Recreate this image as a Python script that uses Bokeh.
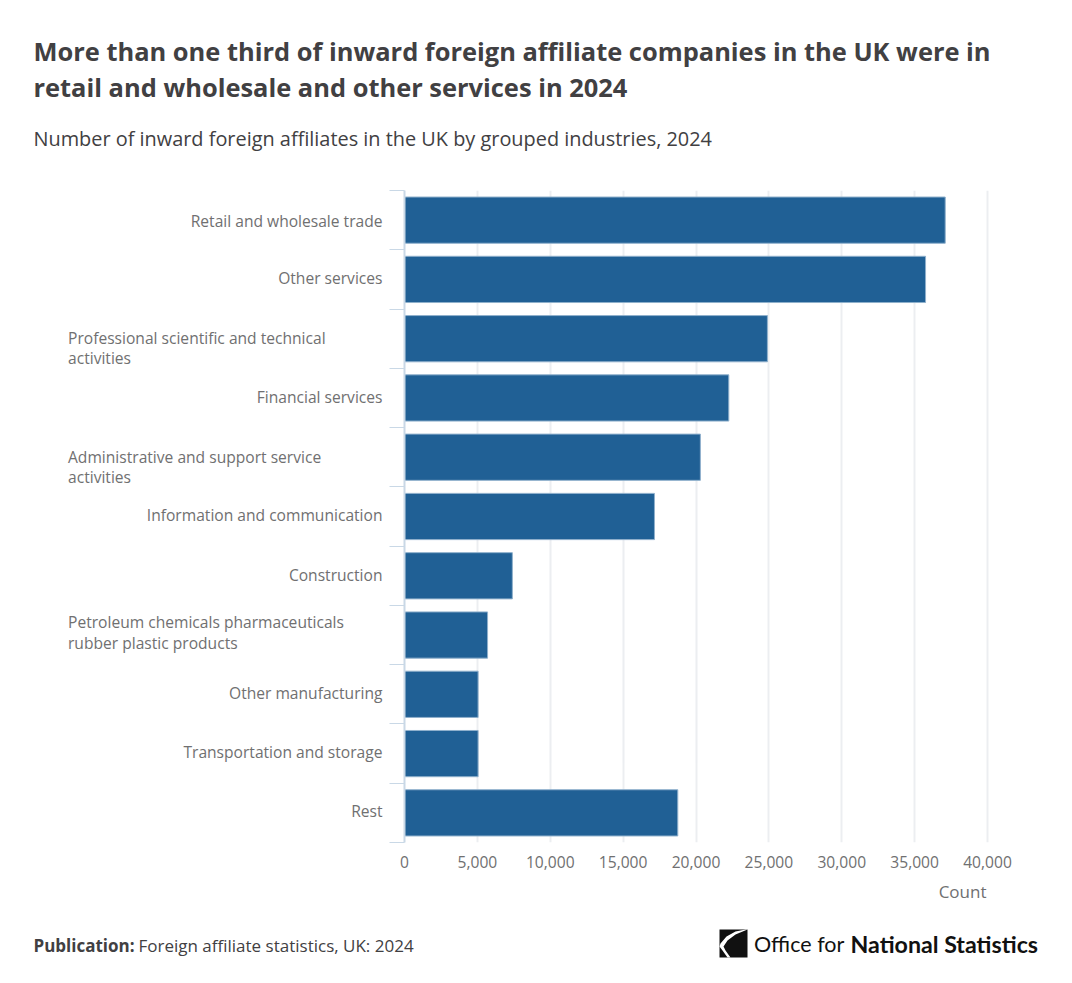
from bokeh.plotting import figure
from bokeh.layouts import column, row
from bokeh.core.properties import value
from bokeh.models import ColumnDataSource, FixedTicker, Range1d, NumeralTickFormatter
from bokeh.embed import file_html
from bokeh.resources import INLINE

categories = ["Retail and wholesale trade", "Other services",
              "Professional scientific and technical\nactivities", "Financial services",
              "Administrative and support service\nactivities", "Information and communication",
              "Construction", "Petroleum chemicals pharmaceuticals\nrubber plastic products",
              "Other manufacturing", "Transportation and storage", "Rest"]
values = [37100, 35750, 24900, 22250, 20300, 17150, 7400, 5700, 5050, 5050, 18750]
x_ticks = [0, 5000, 10000, 15000, 20000, 25000, 30000, 35000, 40000]
title_lines = ["More than one third of inward foreign affiliate companies in the UK were in",
               "retail and wholesale and other services in 2024"]
subtitle = "Number of inward foreign affiliates in the UK by grouped industries, 2024"
logo_x = [745, 735, 726, 720, 719, 722, 727, 730, 725, 723, 727, 735, 747]
logo_y = [929, 931, 936, 943, 946, 950, 957, 957, 950, 946, 940, 934, 929]

W = 1056
HEAD_H, CHART_H, FOOT_H = 180, 700, 87
LEFT_W = 389
CHART_TOP, CHART_BOTTOM = 10, 38
FONT = "Open Sans"
TXT = "#414042"
GREY = "#707071"
LBL = "15.6px"

n = len(categories)
pos = [n - i - 0.5 for i in range(n)]


def blank(width, height, xr, yr, **kw):
    fig = figure(width=width, height=height, output_backend="svg", toolbar_location=None,
                 x_range=Range1d(*xr), y_range=Range1d(*yr), x_axis_location=None, y_axis_location=None,
                 min_border_left=0, min_border_right=0, min_border_top=kw.pop("top", 0),
                 min_border_bottom=kw.pop("bottom", 0), outline_line_color=None,
                 background_fill_color="white", border_fill_color="white")
    fig.grid.visible = False
    return fig


def txt(fig, s, x, y, size, color=TXT, weight="normal", align="left", font=FONT):
    fig.text(x=[x], y=[y], text=[s], text_font=value(font), text_font_size=value(size), text_color=color,
             text_font_style=weight, text_align=align, text_baseline="middle")


# header
head = blank(W, HEAD_H, (0, W), (HEAD_H, 0))
txt(head, title_lines[0], 33, 50.5, "25.45px", weight="bold")
txt(head, title_lines[1], 33, 86.5, "25.45px", weight="bold")
txt(head, subtitle, 33, 138, "19.9px")

# category labels, in their own panel sharing the chart's band scale
labels = blank(LEFT_W, CHART_H, (0, LEFT_W), (0, n), top=CHART_TOP, bottom=CHART_BOTTOM)
single = [i for i, c in enumerate(categories) if "\n" not in c]
double = [i for i, c in enumerate(categories) if "\n" in c]
single_off = [1, -1, -1, -2, -1, -1, -2, -2]
double_off = [9, 10, -2.5]
labels.text(x=[382] * len(single), y=[pos[i] for i in single], text=[categories[i] for i in single],
            y_offset=single_off, text_font=value(FONT), text_font_size=value(LBL), text_color=GREY,
            text_align="right", text_baseline="middle")
labels.text(x=[67.5] * len(double), y=[pos[i] for i in double], text=[categories[i] for i in double],
            y_offset=double_off, text_font=value(FONT), text_font_size=value(LBL), text_color=GREY,
            text_align="left", text_baseline="middle", text_line_height=0.92)

# chart
p = figure(width=W - LEFT_W, height=CHART_H, output_backend="svg", toolbar_location=None,
           y_range=Range1d(0, n), x_range=Range1d(0, 41578),
           min_border_left=15, min_border_right=46, min_border_top=CHART_TOP, min_border_bottom=CHART_BOTTOM,
           outline_line_color=None, background_fill_color="white", border_fill_color="white")
src = ColumnDataSource(dict(y=pos, val=values))
p.hbar(y="y", right="val", left=0, height=0.78, source=src,
       fill_color="#206095", line_color="#8fb0cc", line_width=1)

p.xaxis.ticker = FixedTicker(ticks=x_ticks)
p.xaxis.formatter = NumeralTickFormatter(format="0,0")
p.xaxis.axis_line_color = None
p.xaxis.major_tick_line_color = None
p.xaxis.minor_tick_line_color = None
p.xaxis.major_label_text_font = FONT
p.xaxis.major_label_text_font_size = LBL
p.xaxis.major_label_text_color = GREY
p.xaxis.major_label_standoff = 7

p.xgrid.ticker = FixedTicker(ticks=x_ticks)
p.xgrid.grid_line_color = "#eceef1"
p.xgrid.grid_line_width = 2
p.ygrid.grid_line_color = None

edge_ticks = list(range(n + 1))
p.yaxis.ticker = FixedTicker(ticks=edge_ticks)
p.yaxis.axis_line_color = "#c9d8e6"
p.yaxis.axis_line_width = 2
p.yaxis.major_tick_line_color = "#c9d8e6"
p.yaxis.major_tick_out = 15
p.yaxis.major_tick_in = 0
p.yaxis.minor_tick_line_color = None
p.yaxis.major_label_standoff = 0
p.yaxis.major_label_text_font_size = "1px"
p.yaxis.major_label_overrides = {t: "" for t in edge_ticks}

# footer (y in page pixels)
top_y = HEAD_H + CHART_H
foot = blank(W, FOOT_H, (0, W), (top_y + FOOT_H, top_y))
txt(foot, "Count", 986, 891, "17px", color=GREY, align="right")
txt(foot, "Publication:", 33, 945, "17px", weight="bold")
txt(foot, "Foreign affiliate statistics, UK: 2024", 138, 945, "17px")
txt(foot, "Office for", 753.5, 943, "21.5px", color="#111111", font="Lato")
txt(foot, "National Statistics", 850, 943, "23.2px", color="#111111", weight="bold", font="Lato")
foot.quad(left=[719], right=[747], top=[929], bottom=[957], fill_color="#111111", line_color=None)
foot.patch(x=logo_x, y=logo_y, fill_color="white", line_color=None)

layout = column(head, row(labels, p, spacing=0), foot, spacing=0)
open("out.html", "w").write(file_html(layout, INLINE))
